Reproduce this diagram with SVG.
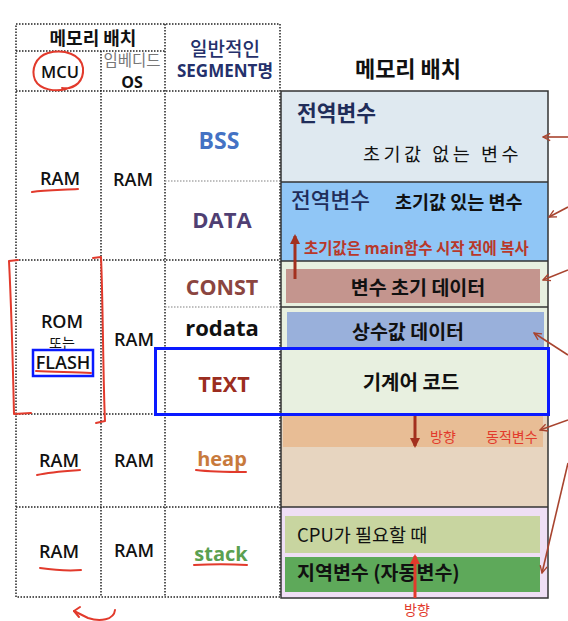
<svg xmlns="http://www.w3.org/2000/svg" width="568" height="621" viewBox="0 0 568 621">
<style>
.ko{font-family:"Noto Sans CJK KR","Noto Sans",sans-serif}
.la{font-family:"Open Sans","Noto Sans CJK KR",sans-serif}
.grid{stroke:#222;stroke-width:1.5;stroke-dasharray:1.5 1.5;fill:none}
.lgrid{stroke:#aaa;stroke-width:1.5;stroke-dasharray:1.5 1.5;fill:none}
.seg{font-family:"Open Sans",sans-serif;font-weight:700;text-anchor:middle}
.ram{font-family:"Open Sans",sans-serif;font-size:18px;font-weight:600;text-anchor:middle;fill:#111}
.pen{stroke:#e23a2c;stroke-width:2;fill:none;stroke-linecap:round;stroke-linejoin:round}
.ptr{stroke:#a8442f;stroke-width:1.6;fill:none}
.sep{stroke:#333;stroke-width:1.5}
.hand{font-family:"Noto Sans CJK KR",sans-serif;fill:#e23a2c;font-size:14px}
</style>
<defs>
<marker id="ah" viewBox="0 0 10 10" refX="9" refY="5" markerWidth="9" markerHeight="9" orient="auto" markerUnits="userSpaceOnUse">
<path d="M1,1 L9,5 L1,9" fill="none" stroke="#a8442f" stroke-width="1.5"/>
</marker>
<marker id="big1" viewBox="0 0 10 10" refX="8" refY="5" markerWidth="10" markerHeight="10" orient="auto" markerUnits="userSpaceOnUse">
<path d="M0,0 L10,5 L0,10 Z" fill="#a3301e"/>
</marker>
<marker id="big2" viewBox="0 0 10 10" refX="8" refY="5" markerWidth="10" markerHeight="10" orient="auto" markerUnits="userSpaceOnUse">
<path d="M0,0 L10,5 L0,10 Z" fill="#e23a2c"/>
</marker>
</defs>
<rect width="568" height="621" fill="#fff"/>

<g id="table">
<rect x="16" y="24" width="264" height="573" class="grid"/>
<line x1="16" y1="51" x2="165" y2="51" class="grid"/>
<line x1="16" y1="91" x2="280" y2="91" class="grid"/>
<line x1="16" y1="260" x2="280" y2="260" class="grid"/>
<line x1="16" y1="414" x2="280" y2="414" class="grid"/>
<line x1="16" y1="507" x2="280" y2="507" class="grid"/>
<line x1="101" y1="51" x2="101" y2="597" class="grid"/>
<line x1="165" y1="24" x2="165" y2="597" class="grid"/>
<line x1="165" y1="181" x2="280" y2="181" class="lgrid"/>
<line x1="165" y1="307" x2="280" y2="307" class="lgrid"/>
</g>

<g id="header-left">
<text x="93" y="45" class="ko" font-size="18" font-weight="700" text-anchor="middle" fill="#111">메모리 배치</text>
<text x="60" y="78" class="la" font-size="16.5" font-weight="600" text-anchor="middle" fill="#111">MCU</text>
<text x="132" y="66" class="ko" font-size="15.5" text-anchor="middle" fill="#777">임베디드</text>
<text x="132" y="88" class="la" font-size="16" font-weight="700" text-anchor="middle" fill="#111">OS</text>
<text x="225" y="56" class="ko" font-size="19" font-weight="500" text-anchor="middle" fill="#24306b">일반적인</text>
<text x="225" y="77" class="la" font-size="17" font-weight="700" text-anchor="middle" fill="#24306b">SEGMENT<tspan class="ko">명</tspan></text>
</g>

<g id="col-mcu">
<text x="60" y="185" class="ram">RAM</text>
<text x="62" y="328" class="ram" font-weight="500">ROM</text>
<text x="62" y="348" class="ko" font-size="14" text-anchor="middle" fill="#111">또는</text>
<text x="63" y="369" class="ram" font-weight="500">FLASH</text>
<text x="59" y="467" class="ram">RAM</text>
<text x="59" y="558" class="ram">RAM</text>
</g>

<g id="col-os">
<text x="133" y="186" class="ram">RAM</text>
<text x="134" y="346" class="ram">RAM</text>
<text x="134" y="467" class="ram">RAM</text>
<text x="134" y="557" class="ram">RAM</text>
</g>

<g id="col-segment">
<text x="219" y="149" class="seg" font-size="23" fill="#4472c4">BSS</text>
<text x="222" y="228" class="seg" font-size="22" fill="#4f3f73">DATA</text>
<text x="222" y="295" class="seg" font-size="21.5" fill="#8b4540">CONST</text>
<text x="222" y="336" class="seg" font-size="22" fill="#111">rodata</text>
<text x="224" y="392" class="seg" font-size="21.5" fill="#9b2d20">TEXT</text>
<text x="222" y="466" class="seg" font-size="20" fill="#c87a3c">heap</text>
<text x="221" y="561" class="seg" font-size="20" fill="#5aa050">stack</text>
</g>

<g id="header-right">
<text x="408" y="77" class="ko" font-size="22" font-weight="700" text-anchor="middle" fill="#111">메모리 배치</text>
</g>

<g id="bss">
<rect x="281" y="91" width="267" height="91" fill="#dfe9f0"/>
<text x="297" y="121" class="ko" font-size="21.5" font-weight="700" fill="#1f2d5a">전역변수</text>
<text x="363" y="161" class="ko" font-size="18.5" letter-spacing="3.5" fill="#111">초기값 없는 변수</text>
</g>

<g id="data">
<rect x="281" y="182" width="267" height="79" fill="#90c6f6"/>
<text x="291" y="208" class="ko" font-size="21.5" font-weight="500" fill="#1f2d5a">전역변수</text>
<text x="395" y="209" class="ko" font-size="18.5" font-weight="700" fill="#111">초기값 있는 변수</text>
<text x="304" y="254" class="ko" font-size="15.5" font-weight="700" fill="#b8382a">초기값은 <tspan class="la">main</tspan>함수 시작 전에 복사</text>
</g>

<g id="const">
<rect x="281" y="261" width="267" height="46" fill="#e8f0e0"/>
<rect x="286" y="269" width="254" height="34" fill="#c4958e"/>
<text x="418" y="295" class="ko" font-size="19.5" font-weight="700" text-anchor="middle" fill="#111">변수 초기 데이터</text>
</g>

<g id="rodata">
<rect x="281" y="307" width="267" height="108" fill="#e8f0e0"/>
<rect x="287" y="312" width="257" height="36" fill="#99b0db"/>
<text x="408" y="339" class="ko" font-size="19.5" font-weight="700" text-anchor="middle" fill="#111">상수값 데이터</text>
</g>

<g id="text-seg">
<text x="411" y="390" class="ko" font-size="20" font-weight="700" text-anchor="middle" fill="#111">기계어 코드</text>
</g>

<g id="heap">
<rect x="281" y="415" width="267" height="92" fill="#e7d5c0"/>
<rect x="283" y="415" width="260" height="32" fill="#e8bd95"/>
</g>

<g id="stack">
<rect x="281" y="507" width="267" height="91" fill="#efdff5"/>
<rect x="285" y="516" width="255" height="37" fill="#c8d5a0"/>
<text x="297" y="542" class="ko" font-size="18.5" fill="#111">CPU가 필요할 때</text>
<rect x="285" y="557" width="255" height="35" fill="#5ea95a"/>
<text x="297" y="580" class="ko" font-size="19.5" font-weight="700" fill="#111">지역변수 (자동변수)</text>
</g>

<g id="outline">
<rect x="281" y="91" width="267" height="507" fill="none" stroke="#333" stroke-width="1.5"/>
<line x1="281" y1="182" x2="548" y2="182" class="sep"/>
<line x1="281" y1="261" x2="548" y2="261" class="sep"/>
<line x1="281" y1="307" x2="548" y2="307" class="sep"/>
<line x1="281" y1="507" x2="548" y2="507" class="sep"/>
</g>

<g id="highlight">
<rect x="155.5" y="348.5" width="393" height="66" fill="none" stroke="#0a1aff" stroke-width="3"/>
<rect x="33" y="350" width="60" height="26" fill="none" stroke="#0a1aff" stroke-width="2.5"/>
</g>

<g id="connectors">
<line x1="295" y1="279" x2="295" y2="236" stroke="#a3301e" stroke-width="3" marker-end="url(#big1)"/>
<line x1="415" y1="416" x2="415" y2="446" stroke="#a3301e" stroke-width="3" marker-end="url(#big1)"/>
<line x1="415" y1="598" x2="415" y2="556" stroke="#e23a2c" stroke-width="3" marker-end="url(#big2)"/>
<line x1="568" y1="137" x2="543" y2="137" class="ptr" marker-end="url(#ah)"/>
<line x1="568" y1="207" x2="549" y2="217" class="ptr" marker-end="url(#ah)"/>
<line x1="568" y1="270" x2="543" y2="280" class="ptr" marker-end="url(#ah)"/>
<line x1="568" y1="355" x2="534" y2="333" class="ptr" marker-end="url(#ah)"/>
<line x1="568" y1="420" x2="540" y2="430" class="ptr" marker-end="url(#ah)"/>
<line x1="568" y1="463" x2="542" y2="573" class="ptr" marker-end="url(#ah)"/>
</g>

<g id="annotations">
<text x="430" y="442" class="hand">방향</text>
<text x="486" y="442" class="hand">동적변수</text>
<text x="404" y="615" class="hand">방향</text>
<path class="pen" d="M62,88 C76,90 84,80 83,68 C81,54 64,49 48,53 C35,57 31,70 35,80 C40,90 56,92 66,89 C72,87 78,84 80,81"/>
<path class="pen" d="M18,260 L9,261 C11,300 13,370 14,414 L31,413"/>
<path class="pen" d="M93,258 L101,257 C103,300 103,380 105,421 L96,423"/>
<path class="pen" d="M36,371 C55,372 75,372 91,373"/>
<path class="pen" d="M32,192 C45,190 62,190 78,189"/>
<path class="pen" d="M37,475 C50,472 66,471 80,470"/>
<path class="pen" d="M40,568 C54,570 68,571 81,570"/>
<path class="pen" d="M196,470 C212,472 230,472 246,472"/>
<path class="pen" d="M194,565 C212,564 230,564 247,565"/>
<path class="pen" d="M115,610 C114,620 100,622 88,618 L74,611"/>
<path class="pen" d="M74,611 L80,607 M74,611 L79,617"/>
</g>
</svg>
